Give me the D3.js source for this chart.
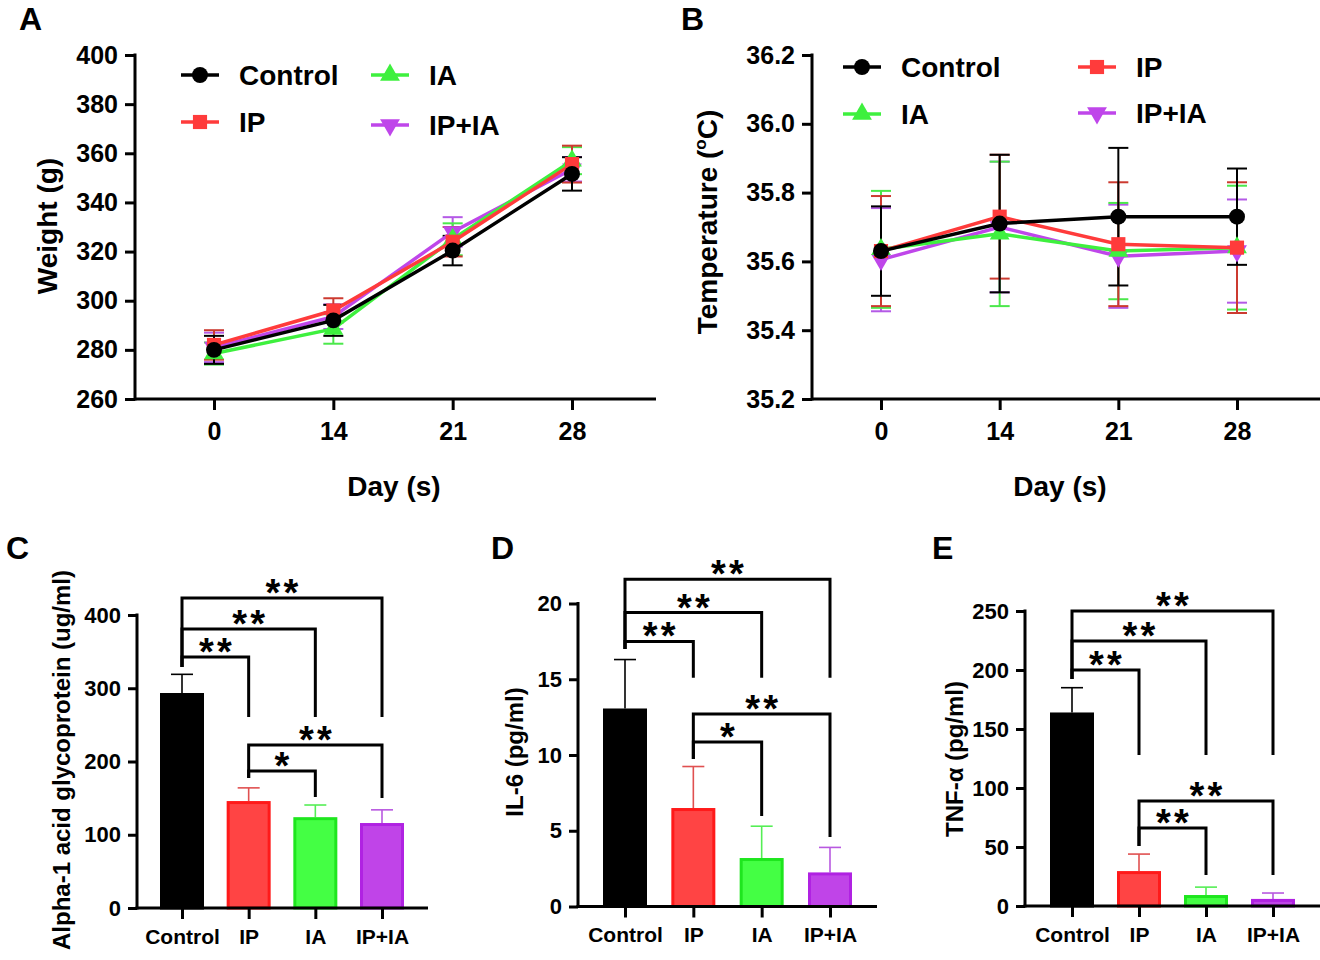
<!DOCTYPE html>
<html><head><meta charset="utf-8">
<script src="https://cdn.jsdelivr.net/npm/d3@7"></script>
<style>
html,body{margin:0;padding:0;background:#fff;}
svg{display:block;font-family:"Liberation Sans",Arial,sans-serif;font-weight:bold;}
</style></head>
<body><svg id="chart" width="1320" height="960"></svg>
<script>
// ---------- DATA ----------
const days = ["0", "14", "21", "28"];
const groups = ["Control", "IP", "IA", "IP+IA"];

const weightControl = [280, 292, 320.4, 351.6];
const weightControlErr = [5.7, 6.3, 6, 6.8];
const weightIP = [282, 296, 324, 355.6];
const weightIPErr = [6, 5, 6, 7.5];
const weightIA = [278.5, 288.5, 325, 357];
const weightIAErr = [4.5, 6, 6.5, 5.5];
const weightIPIA = [281, 293.5, 328, 353.5];
const weightIPIAErr = [6, 5, 6, 5];
const weightTicks = [260, 280, 300, 320, 340, 360, 380, 400];

const tempControl = [35.63, 35.71, 35.73, 35.73];
const tempControlErr = [0.13, 0.2, 0.2, 0.14];
const tempIP = [35.63, 35.73, 35.65, 35.64];
const tempIPErr = [0.16, 0.18, 0.18, 0.19];
const tempIA = [35.635, 35.68, 35.63, 35.64];
const tempIAErr = [0.17, 0.21, 0.14, 0.18];
const tempIPIA = [35.605, 35.70, 35.615, 35.63];
const tempIPIAErr = [0.15, 0.19, 0.15, 0.15];
const tempTicks = [35.2, 35.4, 35.6, 35.8, 36.0, 36.2];

const agpMean = [293.5, 146, 124, 116];
const agpErr = [25.5, 18, 16.6, 18];
const agpTicks = [0, 100, 200, 300, 400];
// brackets: [from, to, lineLevel, leftEnd, rightEnd, label]
const agpBrackets = [
  [0, 1, 342.7, 329, 260.8, "**"],
  [0, 2, 380.9, 329, 260.8, "**"],
  [0, 3, 423.2, 329, 260.8, "**"],
  [1, 2, 187, 177.5, 151.5, "*"],
  [1, 3, 222.5, 177.5, 150.2, "**"]
];

const il6Mean = [13.07, 6.5, 3.2, 2.25];
const il6Err = [3.23, 2.74, 2.1, 1.65];
const il6Ticks = [0, 5, 10, 15, 20];
const il6Brackets = [
  [0, 1, 17.5, 17.0, 15.1, "**"],
  [0, 2, 19.4, 17.0, 15.1, "**"],
  [0, 3, 21.6, 17.0, 15.1, "**"],
  [1, 2, 10.85, 9.74, 5.97, "*"],
  [1, 3, 12.7, 9.74, 4.59, "**"]
];

const tnfMean = [164, 29.6, 9.3, 6];
const tnfErr = [21, 14.4, 6.7, 5];
const tnfTicks = [0, 50, 100, 150, 200, 250];
const tnfBrackets = [
  [0, 1, 200, 192.4, 128, "**"],
  [0, 2, 224.6, 192.4, 128, "**"],
  [0, 3, 250, 192.4, 128, "**"],
  [1, 2, 66, 50.8, 26.3, "**"],
  [1, 3, 89, 50.8, 26.3, "**"]
];

// ---------- STYLE ----------
const lineColors = ["#000000", "#ff3b3b", "#3ef03e", "#bf46ea"];
const errColors = ["#000000", "#cc3a30", "#4be84b", "#b45ae6"];
const barFill = ["#000000", "#ff4444", "#44ff44", "#c044e8"];
const barStroke = ["#000000", "#ff1a1a", "#1ee61e", "#b022e2"];
const barErr = ["#000000", "#e05050", "#55ee55", "#b858e0"];
const symTypes = [d3.symbolCircle, d3.symbolSquare, d3.symbolTriangle, d3.symbolTriangle];
const symSizes = [200, 200, 170, 170];
const symRot = [0, 0, 0, 180];

const svg = d3.select("#chart");

function styleAxis(g, fs) {
  g.attr("font-family", null).attr("font-size", null);
  g.selectAll("path.domain").attr("stroke", "#000").attr("stroke-width", 3);
  g.selectAll(".tick line").attr("stroke", "#000").attr("stroke-width", 3);
  g.selectAll(".tick text").attr("fill", "#000").style("font-size", fs + "px").style("font-weight", "bold");
}

function panelLetter(txt, x, y) {
  svg.append("text").attr("x", x).attr("y", y).style("font-size", "32px").text(txt);
}

function symbolPath(i) {
  return d3.symbol().type(symTypes[i]).size(symSizes[i])();
}

function linePanel(cfg) {
  const g = svg.append("g");
  const y = d3.scaleLinear().domain(cfg.yDomain).range([cfg.yBottom, cfg.yTop]);
  const x = d3.scalePoint().domain(days).range(cfg.xRange);

  const xa = g.append("g").attr("transform", `translate(0,${cfg.yBottom})`)
    .call(d3.axisBottom(x).tickSize(11).tickSizeOuter(0).tickPadding(12));
  xa.select("path.domain").remove();
  styleAxis(xa, 25);
  g.append("line").attr("x1", cfg.yAxisX).attr("x2", cfg.xEnd)
    .attr("y1", cfg.yBottom).attr("y2", cfg.yBottom)
    .attr("stroke", "#000").attr("stroke-width", 3);

  const ya = g.append("g").attr("transform", `translate(${cfg.yAxisX},0)`)
    .call(d3.axisLeft(y).tickValues(cfg.yTicks).tickFormat(cfg.fmt).tickSize(10).tickSizeOuter(0).tickPadding(7));
  styleAxis(ya, 25);
  ya.select("path.domain").attr("d", `M0,${y(cfg.yDomain[1]) - 1.5}V${y(cfg.yDomain[0]) + 1.5}`);

  const order = [3, 2, 1, 0];
  order.forEach(i => {
    const m = cfg.means[i], e = cfg.errs[i];
    const eg = g.append("g").attr("stroke", errColors[i]).attr("stroke-width", 2).attr("fill", "none");
    days.forEach((d, k) => {
      const cx = x(d);
      eg.append("line").attr("x1", cx).attr("x2", cx).attr("y1", y(m[k] - e[k])).attr("y2", y(m[k] + e[k]));
      [m[k] - e[k], m[k] + e[k]].forEach(v => {
        eg.append("line").attr("x1", cx - 10).attr("x2", cx + 10).attr("y1", y(v)).attr("y2", y(v));
      });
    });
  });
  order.forEach(i => {
    const m = cfg.means[i];
    const line = d3.line().x((d, k) => x(days[k])).y(d => y(d));
    g.append("path").datum(m).attr("d", line).attr("fill", "none")
      .attr("stroke", lineColors[i]).attr("stroke-width", 3.5);
    g.selectAll(null).data(m).enter().append("path")
      .attr("d", symbolPath(i))
      .attr("transform", (d, k) => `translate(${x(days[k])},${y(d)}) rotate(${symRot[i]})`)
      .attr("fill", lineColors[i]);
  });

  cfg.legend.forEach((p, i) => {
    const lg = g.append("g").attr("transform", `translate(${p[0]},${p[1]})`);
    lg.append("line").attr("x1", -19).attr("x2", 19).attr("stroke", lineColors[i]).attr("stroke-width", 3.5);
    lg.append("path").attr("d", symbolPath(i)).attr("fill", lineColors[i]).attr("transform", `rotate(${symRot[i]})`);
    lg.append("text").attr("x", 39).attr("y", 10).style("font-size", "28px").text(groups[i]);
  });

  g.append("text").attr("x", cfg.xTitle[0]).attr("y", cfg.xTitle[1]).attr("text-anchor", "middle")
    .style("font-size", "28px").text("Day (s)");
  const yt = g.append("text").attr("transform", `translate(${cfg.yTitle[0]},${cfg.yTitle[1]}) rotate(-90)`)
    .attr("text-anchor", "middle").style("font-size", "28px");
  if (cfg.yLabelSup) {
    yt.append("tspan").text(cfg.yLabel[0]);
    yt.append("tspan").attr("dy", -11).style("font-size", "17px").text(cfg.yLabelSup);
    yt.append("tspan").attr("dy", 11).text(cfg.yLabel[1]);
  } else {
    yt.text(cfg.yLabel);
  }
}

function barPanel(cfg) {
  const g = svg.append("g");
  const y = d3.scaleLinear().domain(cfg.yDomain).range([cfg.yBottom, cfg.yTop]);
  const x = d3.scalePoint().domain(groups).range(cfg.xRange);
  const bw = 44;

  groups.forEach((gr, i) => {
    const v = cfg.mean[i];
    const top = y(v);
    g.append("line").attr("x1", x(gr)).attr("x2", x(gr)).attr("y1", top).attr("y2", y(v + cfg.err[i]))
      .attr("stroke", barErr[i]).attr("stroke-width", 1.6);
    g.append("line").attr("x1", x(gr) - 11).attr("x2", x(gr) + 11).attr("y1", y(v + cfg.err[i])).attr("y2", y(v + cfg.err[i]))
      .attr("stroke", barErr[i]).attr("stroke-width", 1.6);
    g.append("rect").attr("x", x(gr) - bw / 2 + 1.5).attr("width", bw - 3)
      .attr("y", top + 1.5).attr("height", Math.max(0, cfg.yBottom - top - 1.5))
      .attr("fill", barFill[i]).attr("stroke", barStroke[i]).attr("stroke-width", 3);
  });

  const xa = g.append("g").attr("transform", `translate(0,${cfg.yBottom})`)
    .call(d3.axisBottom(x).tickSize(11).tickSizeOuter(0).tickPadding(10));
  xa.select("path.domain").remove();
  styleAxis(xa, 21);
  g.append("line").attr("x1", cfg.yAxisX - 1.5).attr("x2", cfg.xEnd)
    .attr("y1", cfg.yBottom).attr("y2", cfg.yBottom)
    .attr("stroke", "#000").attr("stroke-width", 3);

  const ya = g.append("g").attr("transform", `translate(${cfg.yAxisX},0)`)
    .call(d3.axisLeft(y).tickValues(cfg.yTicks).tickSize(9).tickSizeOuter(0).tickPadding(7));
  styleAxis(ya, 22);
  ya.select("path.domain").attr("d", `M0,${y(cfg.yDomain[1]) - 1.5}V${y(0) + 1.5}`);

  cfg.brackets.forEach(b => {
    const x1 = x(groups[b[0]]), x2 = x(groups[b[1]]);
    const hy = y(b[2]);
    g.append("path")
      .attr("d", `M${x1},${y(b[3])}V${hy}H${x2}V${y(b[4])}`)
      .attr("fill", "none").attr("stroke", "#000").attr("stroke-width", 3).attr("stroke-linejoin", "miter");
    const n = b[5].length, sp = 18, cx = (x1 + x2) / 2;
    for (let k = 0; k < n; k++) {
      g.append("text").attr("x", cx + (k - (n - 1) / 2) * sp).attr("y", hy + 8).attr("text-anchor", "middle")
        .style("font-size", "38px").text("*");
    }
  });

  g.append("text").attr("transform", `translate(${cfg.yTitle[0]},${cfg.yTitle[1]}) rotate(-90)`)
    .attr("text-anchor", "middle").style("font-size", "24px").text(cfg.yLabel);
}

// ---------- PANELS ----------
panelLetter("A", 19, 30);
panelLetter("B", 681, 30);
panelLetter("C", 6, 559);
panelLetter("D", 491, 559);
panelLetter("E", 932, 559);

linePanel({
  yDomain: [260, 400], yTicks: weightTicks, fmt: d3.format("d"),
  yTop: 55, yBottom: 399, yAxisX: 135, xRange: [214, 572], xEnd: 656,
  means: [weightControl, weightIP, weightIA, weightIPIA],
  errs: [weightControlErr, weightIPErr, weightIAErr, weightIPIAErr],
  legend: [[200, 75], [200, 122], [390, 75], [390, 125]],
  xTitle: [394, 496], yTitle: [57, 226], yLabel: "Weight (g)"
});

linePanel({
  yDomain: [35.2, 36.2], yTicks: tempTicks, fmt: d3.format(".1f"),
  yTop: 55, yBottom: 399, yAxisX: 812, xRange: [881, 1237], xEnd: 1320,
  means: [tempControl, tempIP, tempIA, tempIPIA],
  errs: [tempControlErr, tempIPErr, tempIAErr, tempIPIAErr],
  legend: [[862, 67], [1097, 67], [862, 114], [1097, 113]],
  xTitle: [1060, 496], yTitle: [717, 222], yLabel: ["Temperature (", "C)"], yLabelSup: "o"
});

barPanel({
  yDomain: [0, 400], yTicks: agpTicks, yTop: 615, yBottom: 908, yAxisX: 137,
  xRange: [182, 382], xEnd: 428, mean: agpMean, err: agpErr, brackets: agpBrackets,
  yTitle: [70, 760], yLabel: "Alpha-1 acid glycoprotein (ug/ml)"
});

barPanel({
  yDomain: [0, 20], yTicks: il6Ticks, yTop: 603.5, yBottom: 906.5, yAxisX: 578,
  xRange: [625, 830], xEnd: 877, mean: il6Mean, err: il6Err, brackets: il6Brackets,
  yTitle: [523, 752], yLabel: "IL-6 (pg/ml)"
});

barPanel({
  yDomain: [0, 250], yTicks: tnfTicks, yTop: 611, yBottom: 906, yAxisX: 1025,
  xRange: [1072, 1273], xEnd: 1320, mean: tnfMean, err: tnfErr, brackets: tnfBrackets,
  yTitle: [963, 759], yLabel: "TNF-α (pg/ml)"
});
</script>
</body></html>
